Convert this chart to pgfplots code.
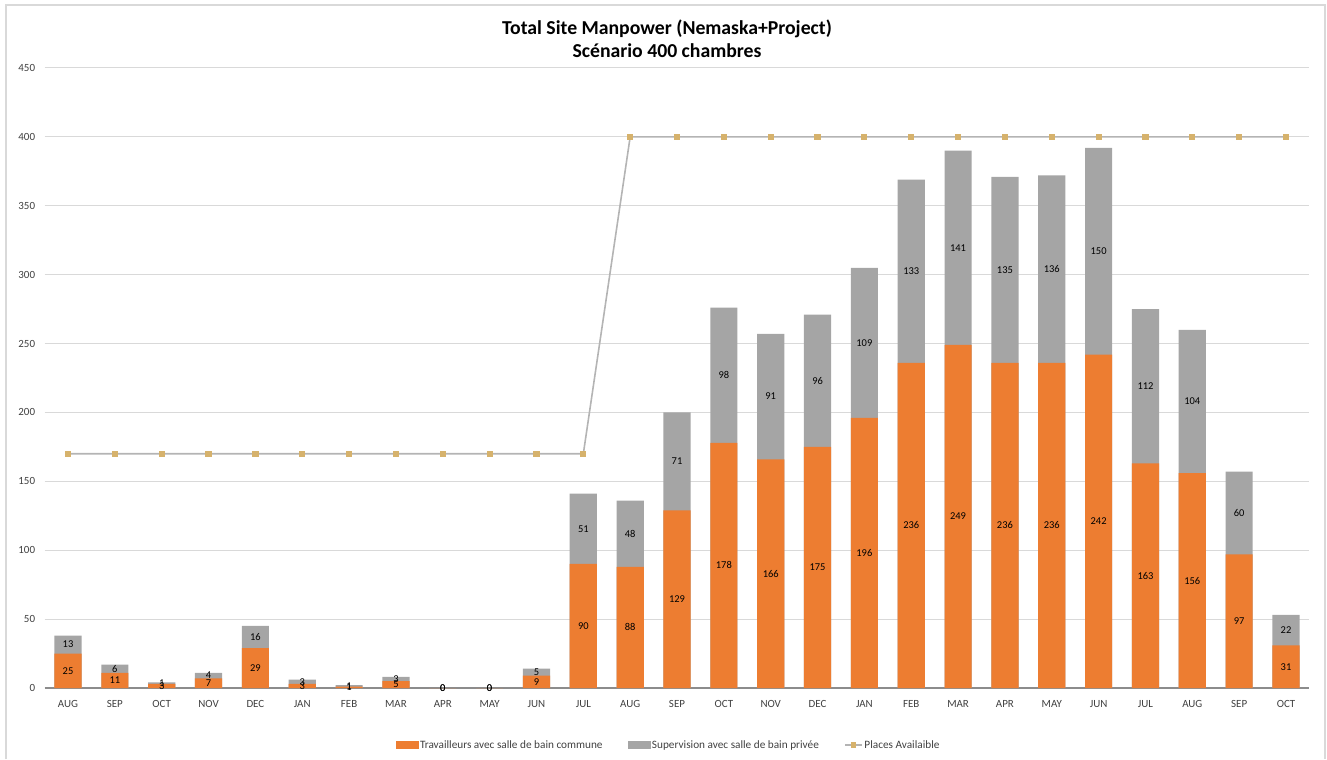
\documentclass[border=0pt]{standalone}
\usepackage{pgfplots}
\pgfplotsset{compat=1.18}
\usepackage{pgfplotstable}
\usepackage{fontspec}
\setmainfont{Carlito}
\definecolor{orangec}{HTML}{ED7D31}
\definecolor{grayc}{HTML}{A5A5A5}
\definecolor{linec}{HTML}{B4B4B4}
\definecolor{markc}{HTML}{D6B26C}
\definecolor{gridc}{HTML}{D9D9D9}
\definecolor{axc}{HTML}{8C8C8C}
\definecolor{txtc}{HTML}{404040}
\pgfplotstableread{
x o g t p
0 25 13 38 170
1 11 6 17 170
2 3 1 4 170
3 7 4 11 170
4 29 16 45 170
5 3 3 6 170
6 1 1 2 170
7 5 3 8 170
8 0 0 0 170
9 0 0 0 170
10 9 5 14 170
11 90 51 141 170
12 88 48 136 400
13 129 71 200 400
14 178 98 276 400
15 166 91 257 400
16 175 96 271 400
17 196 109 305 400
18 236 133 369 400
19 249 141 390 400
20 236 135 371 400
21 236 136 372 400
22 242 150 392 400
23 163 112 275 400
24 156 104 260 400
25 97 60 157 400
26 31 22 53 400
}\data
\begin{document}
\begin{tikzpicture}[x=1bp,y=1bp]
\useasboundingbox (0,0) rectangle (1327,759);
\draw[gridc, line width=1.2bp] (6,0) -- (6,754) -- (1325,754) -- (1325,0);
\node[font=\bfseries\fontsize{19.8}{23}\selectfont, align=center, text=black] at (667,720) {Total Site Manpower (Nemaska+Project)\\Scénario 400 chambres};
\begin{axis}[
  at={(44.6bp,71bp)}, anchor=south west,
  scale only axis, width=1264.8bp, height=620bp,
  xmin=-0.5, xmax=26.5, ymin=0, ymax=450,
  ytick={0,50,...,450},
  xtick={0,...,26},
  xticklabels={AUG,SEP,OCT,NOV,DEC,JAN,FEB,MAR,APR,MAY,JUN,JUL,AUG,SEP,OCT,NOV,DEC,JAN,FEB,MAR,APR,MAY,JUN,JUL,AUG,SEP,OCT},
  /pgf/number format/assume math mode=true,
  axis lines=left,
  y axis line style={draw=none},
  x axis line style={draw=axc, line width=2bp, -},
  major tick length=0pt,
  ymajorgrids, grid style={gridc, line width=1bp},
  tick label style={font=\fontsize{11}{12}\selectfont, text=txtc},
  xticklabel style={yshift=-9bp},
  yticklabel style={xshift=-6bp},
  clip=false,
  legend columns=3,
  legend style={at={(0.4933,-0.0919)}, anchor=center, draw=none, fill=none,
    font=\fontsize{11.3}{12}\selectfont, text=txtc,
    nodes={inner xsep=1.5bp},
    /tikz/every even column/.append style={column sep=24bp}},
]
\addplot[ybar, bar width=0.58, bar shift=0pt, fill=grayc, draw=none, forget plot] table[x=x, y=t] {\data};
\addplot[ybar, bar width=0.58, bar shift=0pt, fill=orangec, draw=none, forget plot] table[x=x, y=o] {\data};
\addplot[draw=none, mark=none, forget plot, nodes near coords, point meta=explicit symbolic,
  every node near coord/.append style={anchor=center, font=\fontsize{10.5}{11}\selectfont, text=black}]
  table[x=x, y expr=\thisrow{o}/2, meta=o] {\data};
\addplot[draw=none, mark=none, forget plot, nodes near coords, point meta=explicit symbolic,
  every node near coord/.append style={anchor=center, font=\fontsize{10.5}{11}\selectfont, text=black}]
  table[x=x, y expr=\thisrow{o}+\thisrow{g}/2, meta=g] {\data};
\addplot[linec, line width=1.6bp, mark=square*, mark size=2.3bp, mark options={fill=markc, draw=markc}, forget plot] table[x=x, y=p] {\data};
\addlegendimage{legend image code/.code={\fill[orangec] (0bp,-3.5bp) rectangle (22bp,3.5bp);}}
\addlegendentry{Travailleurs avec salle de bain commune}
\addlegendimage{legend image code/.code={\fill[grayc] (0bp,-3.5bp) rectangle (22bp,3.5bp);}}
\addlegendentry{Supervision avec salle de bain privée}
\addlegendimage{linec, line width=1.6bp, mark=square*, mark size=2bp, mark options={fill=markc, draw=markc}}
\addlegendentry{Places Availaible}
\end{axis}
\end{tikzpicture}
\end{document}
